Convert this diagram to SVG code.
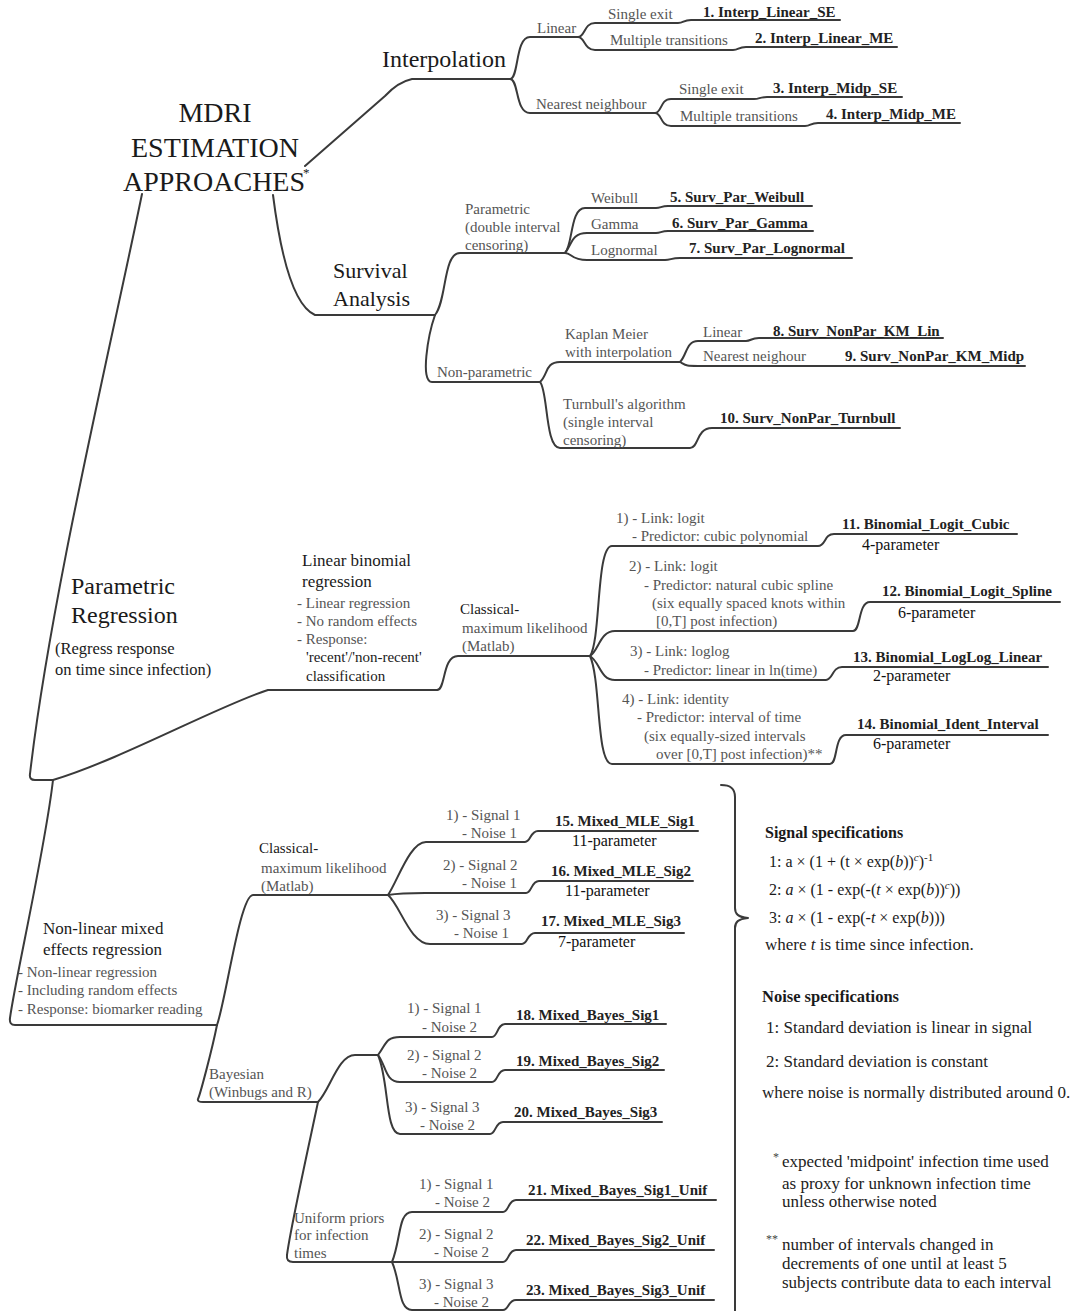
<svg xmlns="http://www.w3.org/2000/svg" width="1071" height="1311" viewBox="0 0 1071 1311">
<style>
text{font-family:"Liberation Serif","Times New Roman",serif}
.c{fill:none;stroke:#3a3a3a;stroke-width:2;stroke-linecap:round;stroke-linejoin:round}
.t1{font-size:28px;fill:#1a1a1a}
.t2{font-size:24px;fill:#1a1a1a}
.t3{font-size:22px;fill:#1a1a1a}
.m{font-size:17px;fill:#1a1a1a}
.r{font-size:16.5px;fill:#1a1a1a}
.l{font-size:15px;fill:#555}
.d{font-size:15px;fill:#1a1a1a}
.b{font-size:15px;font-weight:bold;fill:#222}
.k{font-size:16px;fill:#111}
.h{font-size:16px;font-weight:bold;fill:#1a1a1a}
.f{font-size:16px;fill:#1a1a1a}
.n{font-size:17px;fill:#222}
.i{font-style:italic}
</style>
<rect width="1071" height="1311" fill="#fff"/>

<g id="connectors">
  <!-- root branches -->
  <path class="c" d="M305 166 L385 96 Q398 82 412 79 L510 79"/>
  <path class="c" d="M273 195 C280 250 292 305 315 315 L435 315"/>
  <path class="c" d="M142 194 C110 350 50 600 30 774 Q29 780 35 780 L53 780"/>
  <!-- interpolation -->
  <path class="c" d="M510 79 C519 79 515 37 530 37 L578 37"/>
  <path class="c" d="M510 79 C519 79 515 113 530 113 L655 113"/>
  <path class="c" d="M578 37 C585 37 584 23 595 23 L678 23 C684 23 683 20 691 20 L840 20"/>
  <path class="c" d="M578 37 C585 37 584 50 595 50 L733 50 C739 50 738 47 746 47 L897 47"/>
  <path class="c" d="M655 113 C662 113 660 99 671 99 L754 99 C760 99 759 97 767 97 L902 97"/>
  <path class="c" d="M655 113 C662 113 660 126 671 126 L805 126 C811 126 810 123 818 123 L960 123"/>
  <!-- survival -->
  <path class="c" d="M435 315 C447 300 443 253 460 253 L565 253"/>
  <path class="c" d="M435 315 C428 335 420 382 432 382 L540 382"/>
  <path class="c" d="M565 253 C573 245 570 208 585 208 L656 208 C661 208 661 206 668 206 L812 206"/>
  <path class="c" d="M565 253 C572 245 571 233 587 233 L656 233 C661 233 661 231 668 231 L813 231"/>
  <path class="c" d="M565 253 C572 253 571 260 587 260 L665 260 C671 260 671 258 680 258 L852 258"/>
  <path class="c" d="M540 382 C548 375 545 362 560 362 L680 362"/>
  <path class="c" d="M540 382 C548 390 545 448 560 448 L690 448 C699 448 696 428 712 428 L900 428"/>
  <path class="c" d="M680 362 C687 355 686 341 698 341 L746 341 C751 341 751 338 759 338 L943 338"/>
  <path class="c" d="M680 362 C687 366 686 366 698 366 L1025 366"/>
  <!-- parametric regression -->
  <path class="c" d="M53 780 C120 760 220 705 268 690 L437 690"/>
  <path class="c" d="M437 690 C446 690 442 656 458 656 L590 656"/>
  <path class="c" d="M590 656 C601 640 596 546 612 546 L818 546 C826 546 824 534 834 534 L1017 534"/>
  <path class="c" d="M590 656 C599 650 600 631 615 631 L853 631 C861 631 858 602 870 602 L1060 602"/>
  <path class="c" d="M590 656 C600 662 600 680 615 680 L826 680 C833 680 832 667 842 667 L1048 667"/>
  <path class="c" d="M590 656 C601 680 596 764 612 764 L830 764 C838 764 834 735 846 735 L1048 735"/>
  <!-- non-linear mixed -->
  <path class="c" d="M53 780 C45 850 15 980 10 1018 Q9 1025 15 1025 L217 1025"/>
  <path class="c" d="M217 1025 C226 1000 240 895 253 895 L388 895"/>
  <path class="c" d="M217 1025 C212 1050 200 1095 198 1099 Q197 1102 203 1102 L318 1102"/>
  <path class="c" d="M388 895 C398 880 410 842 426 842 L525 842 C531 842 530 831 538 831 L698 831"/>
  <path class="c" d="M388 895 C400 893 410 893 425 893 L526 893 C532 893 531 881 539 881 L693 881"/>
  <path class="c" d="M388 895 C400 905 410 944 430 944 L522 944 C528 944 527 933 535 933 L684 933"/>
  <path class="c" d="M318 1102 C330 1090 338 1055 355 1055 L378 1055"/>
  <path class="c" d="M318 1102 C310 1140 290 1230 287 1255 Q286 1262 293 1262 L392 1262"/>
  <path class="c" d="M378 1055 C386 1045 385 1037 400 1037 L492 1037 C498 1037 497 1024 505 1024 L666 1024"/>
  <path class="c" d="M378 1055 C386 1065 385 1082 400 1082 L492 1082 C498 1082 497 1070 505 1070 L664 1070"/>
  <path class="c" d="M378 1055 C389 1080 385 1134 400 1134 L490 1134 C496 1134 495 1122 503 1122 L662 1122"/>
  <path class="c" d="M392 1262 C401 1240 398 1212 412 1212 L503 1212 C509 1212 508 1200 516 1200 L716 1200"/>
  <path class="c" d="M392 1262 L503 1262 C509 1262 508 1250 516 1250 L714 1250"/>
  <path class="c" d="M392 1262 C401 1282 398 1310 412 1310 L503 1310 C509 1310 508 1300 516 1300 L714 1300"/>
  <!-- brace -->
  <path class="c" stroke-width="1.4" d="M721 785 C730 785 735 788 735 797 L735 908 C735 914 738 917 748 918 C738 919 735 922 735 928 L735 1311"/>
</g>

<g id="root">
  <text class="t1" x="215" y="122" text-anchor="middle">MDRI</text>
  <text class="t1" x="215" y="157" text-anchor="middle">ESTIMATION</text>
  <text class="t1" x="214" y="191" text-anchor="middle">APPROACHES</text>
  <text x="303" y="177" style="font-size:13px;fill:#1a1a1a">*</text>
</g>

<g id="interpolation"><text class="t2" x="382" y="67">Interpolation</text></g>
<g id="interp-linear"><text class="l" x="537" y="33">Linear</text></g>
<g id="interp-lin-se"><text class="l" x="608" y="19">Single exit</text><text class="b" x="703" y="17">1. Interp_Linear_SE</text></g>
<g id="interp-lin-me"><text class="l" x="610" y="45">Multiple transitions</text><text class="b" x="755" y="43">2. Interp_Linear_ME</text></g>
<g id="interp-nearest"><text class="l" x="536" y="109">Nearest neighbour</text></g>
<g id="interp-midp-se"><text class="l" x="679" y="94">Single exit</text><text class="b" x="773" y="93">3. Interp_Midp_SE</text></g>
<g id="interp-midp-me"><text class="l" x="680" y="121">Multiple transitions</text><text class="b" x="826" y="119">4. Interp_Midp_ME</text></g>

<g id="survival"><text class="t3" x="333" y="278">Survival</text><text class="t3" x="333" y="306">Analysis</text></g>
<g id="surv-parametric"><text class="l" x="465" y="214">Parametric</text><text class="l" x="465" y="232">(double interval</text><text class="l" x="465" y="250">censoring)</text></g>
<g id="surv-weibull"><text class="l" x="591" y="203">Weibull</text><text class="b" x="670" y="202">5. Surv_Par_Weibull</text></g>
<g id="surv-gamma"><text class="l" x="591" y="229">Gamma</text><text class="b" x="672" y="228">6. Surv_Par_Gamma</text></g>
<g id="surv-lognormal"><text class="l" x="591" y="255">Lognormal</text><text class="b" x="689" y="253">7. Surv_Par_Lognormal</text></g>
<g id="surv-nonparametric"><text class="l" x="437" y="377">Non-parametric</text></g>
<g id="surv-km"><text class="l" x="565" y="339">Kaplan Meier</text><text class="l" x="565" y="357">with interpolation</text></g>
<g id="surv-km-lin"><text class="l" x="703" y="337">Linear</text><text class="b" x="773" y="336">8. Surv_NonPar_KM_Lin</text></g>
<g id="surv-km-midp"><text class="l" x="703" y="361">Nearest neighour</text><text class="b" x="845" y="361">9. Surv_NonPar_KM_Midp</text></g>
<g id="surv-turnbull"><text class="l" x="563" y="409">Turnbull's algorithm</text><text class="l" x="563" y="427">(single interval</text><text class="l" x="563" y="445">censoring)</text><text class="b" x="720" y="423">10. Surv_NonPar_Turnbull</text></g>

<g id="param-regression">
  <text class="t2" x="71" y="594">Parametric</text><text class="t2" x="71" y="623">Regression</text>
  <text class="r" x="55" y="654">(Regress response</text><text class="r" x="55" y="675">on time since infection)</text>
</g>
<g id="linear-binomial">
  <text class="m" x="302" y="566">Linear binomial</text><text class="m" x="302" y="587">regression</text>
  <text class="l" x="297" y="608">- Linear regression</text>
  <text class="l" x="297" y="626">- No random effects</text>
  <text class="l" x="297" y="644">- Response:</text>
  <text class="d" x="306" y="662">'recent'/'non-recent'</text>
  <text class="d" x="306" y="681">classification</text>
</g>
<g id="binom-classical"><text class="d" x="460" y="614">Classical-</text><text class="l" x="462" y="633">maximum likelihood</text><text class="l" x="462" y="651">(Matlab)</text></g>
<g id="binom-1">
  <text class="l" x="616" y="523">1) - Link: logit</text><text class="l" x="632" y="541">- Predictor: cubic polynomial</text>
  <text class="b" x="842" y="529">11. Binomial_Logit_Cubic</text><text class="k" x="862" y="550">4-parameter</text>
</g>
<g id="binom-2">
  <text class="l" x="629" y="571">2) - Link: logit</text><text class="l" x="644" y="590">- Predictor: natural cubic spline</text>
  <text class="l" x="652" y="608">(six equally spaced knots within</text><text class="l" x="656" y="626">[0,T] post infection)</text>
  <text class="b" x="882" y="596">12. Binomial_Logit_Spline</text><text class="k" x="898" y="618">6-parameter</text>
</g>
<g id="binom-3">
  <text class="l" x="630" y="656">3) - Link: loglog</text><text class="l" x="644" y="675">- Predictor: linear in ln(time)</text>
  <text class="b" x="853" y="662">13. Binomial_LogLog_Linear</text><text class="k" x="873" y="681">2-parameter</text>
</g>
<g id="binom-4">
  <text class="l" x="622" y="704">4) - Link: identity</text><text class="l" x="637" y="722">- Predictor: interval of time</text>
  <text class="l" x="644" y="741">(six equally-sized intervals</text><text class="l" x="656" y="759">over [0,T] post infection)**</text>
  <text class="b" x="857" y="729">14. Binomial_Ident_Interval</text><text class="k" x="873" y="749">6-parameter</text>
</g>

<g id="nonlinear-mixed">
  <text class="m" x="43" y="934">Non-linear mixed</text><text class="m" x="43" y="955">effects regression</text>
  <text class="l" x="18" y="977">- Non-linear regression</text>
  <text class="l" x="18" y="995">- Including random effects</text>
  <text class="l" x="18" y="1014">- Response: biomarker reading</text>
</g>
<g id="mixed-classical"><text class="d" x="259" y="853">Classical-</text><text class="l" x="261" y="873">maximum likelihood</text><text class="l" x="261" y="891">(Matlab)</text></g>
<g id="mle-1"><text class="l" x="446" y="820">1) - Signal 1</text><text class="l" x="462" y="838">- Noise 1</text><text class="b" x="555" y="826">15. Mixed_MLE_Sig1</text><text class="k" x="572" y="846">11-parameter</text></g>
<g id="mle-2"><text class="l" x="443" y="870">2) - Signal 2</text><text class="l" x="462" y="888">- Noise 1</text><text class="b" x="551" y="876">16. Mixed_MLE_Sig2</text><text class="k" x="565" y="896">11-parameter</text></g>
<g id="mle-3"><text class="l" x="436" y="920">3) - Signal 3</text><text class="l" x="454" y="938">- Noise 1</text><text class="b" x="541" y="926">17. Mixed_MLE_Sig3</text><text class="k" x="558" y="947">7-parameter</text></g>

<g id="bayesian"><text class="l" x="209" y="1079">Bayesian</text><text class="l" x="209" y="1097">(Winbugs and R)</text></g>
<g id="bayes-1"><text class="l" x="407" y="1013">1) - Signal 1</text><text class="l" x="422" y="1032">- Noise 2</text><text class="b" x="516" y="1020">18. Mixed_Bayes_Sig1</text></g>
<g id="bayes-2"><text class="l" x="407" y="1060">2) - Signal 2</text><text class="l" x="422" y="1078">- Noise 2</text><text class="b" x="516" y="1066">19. Mixed_Bayes_Sig2</text></g>
<g id="bayes-3"><text class="l" x="405" y="1112">3) - Signal 3</text><text class="l" x="420" y="1130">- Noise 2</text><text class="b" x="514" y="1117">20. Mixed_Bayes_Sig3</text></g>
<g id="uniform-priors"><text class="l" x="294" y="1223">Uniform priors</text><text class="l" x="294" y="1240">for infection</text><text class="l" x="294" y="1258">times</text></g>
<g id="unif-1"><text class="l" x="419" y="1189">1) - Signal 1</text><text class="l" x="435" y="1207">- Noise 2</text><text class="b" x="528" y="1195">21. Mixed_Bayes_Sig1_Unif</text></g>
<g id="unif-2"><text class="l" x="419" y="1239">2) - Signal 2</text><text class="l" x="434" y="1257">- Noise 2</text><text class="b" x="526" y="1245">22. Mixed_Bayes_Sig2_Unif</text></g>
<g id="unif-3"><text class="l" x="419" y="1289">3) - Signal 3</text><text class="l" x="434" y="1307">- Noise 2</text><text class="b" x="526" y="1295">23. Mixed_Bayes_Sig3_Unif</text></g>

<g id="notes">
  <text class="h" x="765" y="838">Signal specifications</text>
  <text class="f" x="769" y="867">1: a × (1 + (t × exp(<tspan class="i">b</tspan>))<tspan class="i" dy="-6" font-size="11">c</tspan><tspan dy="6">)</tspan><tspan dy="-6" font-size="11">-1</tspan></text>
  <text class="f" x="769" y="895">2: <tspan class="i">a</tspan> × (1 - exp(-(<tspan class="i">t</tspan> × exp(<tspan class="i">b</tspan>))<tspan class="i" dy="-6" font-size="11">c</tspan><tspan dy="6">))</tspan></text>
  <text class="f" x="769" y="923">3: <tspan class="i">a</tspan> × (1 - exp(-<tspan class="i">t</tspan> × exp(<tspan class="i">b</tspan>)))</text>
  <text class="n" x="765" y="950">where <tspan class="i">t</tspan> is time since infection.</text>
  <text class="h" x="762" y="1002" style="font-size:16.5px">Noise specifications</text>
  <text class="n" x="766" y="1033">1: Standard deviation is linear in signal</text>
  <text class="n" x="766" y="1067">2: Standard deviation is constant</text>
  <text class="n" x="762" y="1098">where noise is normally distributed around 0.</text>
</g>
<g id="footnotes">
  <text x="773" y="1161" style="font-size:12px;fill:#444">*</text>
  <text class="n" x="782" y="1167">expected 'midpoint' infection time used</text>
  <text class="n" x="782" y="1189">as proxy for unknown infection time</text>
  <text class="n" x="782" y="1207">unless otherwise noted</text>
  <text x="766" y="1243" style="font-size:12px;fill:#444">**</text>
  <text class="n" x="782" y="1250">number of intervals changed in</text>
  <text class="n" x="782" y="1269">decrements of one until at least 5</text>
  <text class="n" x="782" y="1288">subjects contribute data to each interval</text>
</g>
</svg>
